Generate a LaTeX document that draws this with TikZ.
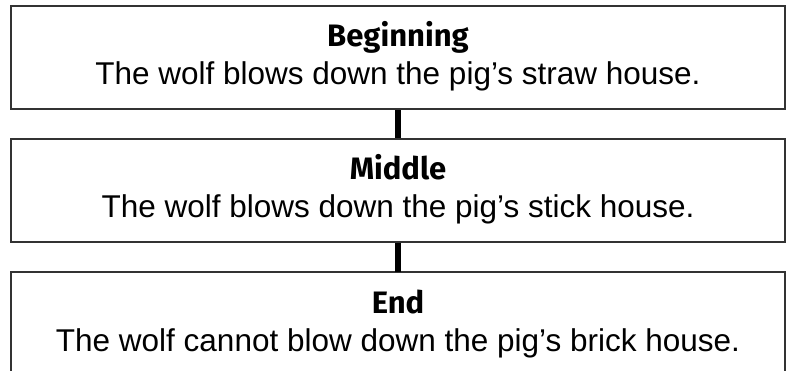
\documentclass[tikz,border=0pt]{standalone}
\usepackage{fontspec}
\setmainfont{Liberation Sans}
\newfontfamily\headfont{Fira Sans}
\definecolor{boxline}{HTML}{333333}
\tikzset{
  stagebox/.style={draw=boxline, line width=2.5pt, minimum width=774pt, minimum height=103pt, inner sep=0pt},
  openbox/.style={minimum width=774pt, minimum height=103pt, inner sep=0pt},
  boxedge/.style={draw=boxline, line width=2.5pt},
  headtext/.style={font=\headfont\bfseries\fontsize{31}{36}\selectfont, anchor=base, inner sep=0pt},
  bodytext/.style={font=\fontsize{31.5}{36}\selectfont, anchor=base, inner sep=0pt},
  link/.style={draw=black, line width=6pt}
}
\begin{document}
\begin{tikzpicture}[x=1pt,y=1pt]
\useasboundingbox (0,0) rectangle (788,371);
\node[stagebox] (b1) at (398,313.5) {};
\node[stagebox] (b2) at (398,180.5) {};
\node[openbox] (b3) at (398,47.5) {};
\draw[boxedge] (b3.south west) -- (b3.north west) -- (b3.north east) -- (b3.south east);
\node[headtext] (h1) at ([yshift=-41.5pt]b1.north) {Beginning};
\node[bodytext] (t1) at ([yshift=-79.5pt]b1.north) {The wolf blows down the pig’s straw house.};
\node[headtext] (h2) at ([yshift=-41.5pt]b2.north) {Middle};
\node[bodytext] (t2) at ([yshift=-79.5pt]b2.north) {The wolf blows down the pig’s stick house.};
\node[headtext] (h3) at ([yshift=-41.5pt]b3.north) {End};
\node[bodytext] (t3) at ([yshift=-79.5pt]b3.north) {The wolf cannot blow down the pig’s brick house.};
\draw[link] (b1.south) -- (b2.north);
\draw[link] (b2.south) -- (b3.north);
\end{tikzpicture}
\end{document}
